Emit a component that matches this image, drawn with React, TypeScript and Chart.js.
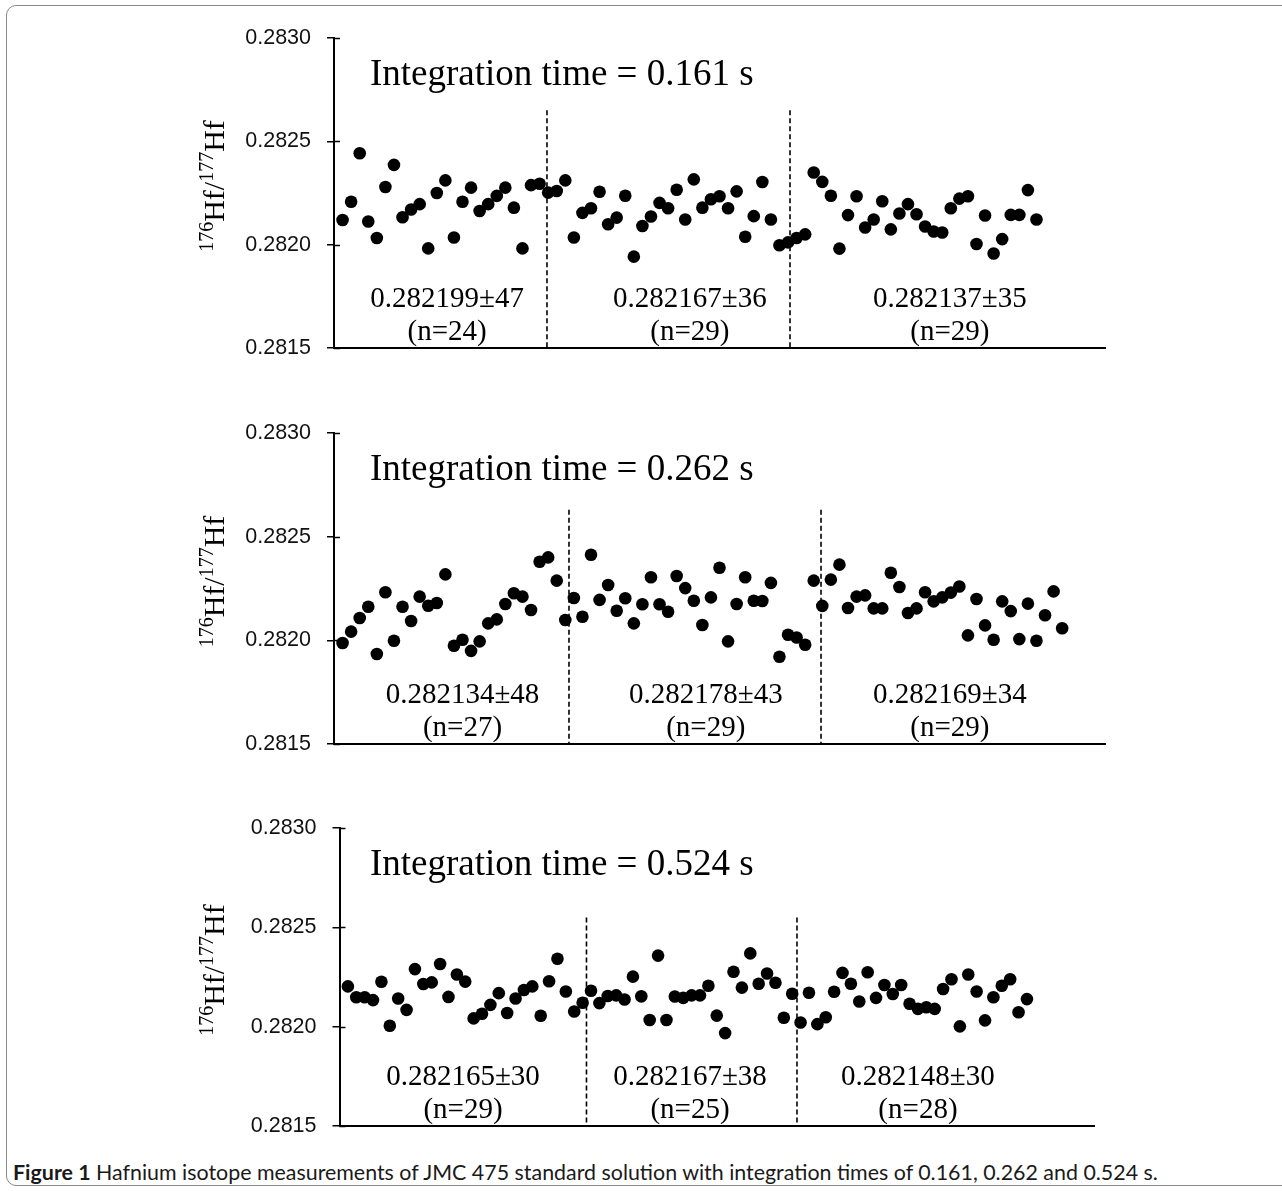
import React, { useEffect, useRef } from "react";
import { Chart, registerables } from "chart.js";

Chart.register(...registerables);

// ---- data ----
const yTicks = [0.2815, 0.282, 0.2825, 0.283];

const values161 = [
  0.282119, 0.282208, 0.282442, 0.282112, 0.282032, 0.282279, 0.282386, 0.282133, 0.28217, 0.282196,
  0.281982, 0.28225, 0.282311, 0.282035, 0.282208, 0.282276, 0.282163, 0.282196, 0.282236, 0.282276,
  0.282179, 0.281982, 0.282288, 0.282295, 0.282252, 0.28226, 0.282311, 0.282035, 0.282154, 0.282176,
  0.282256, 0.282099, 0.282131, 0.282237, 0.281942, 0.28209, 0.282136, 0.282202, 0.282176, 0.282266,
  0.282122, 0.282316, 0.282179, 0.28222, 0.282234, 0.282176, 0.282258, 0.282038, 0.282138, 0.282303,
  0.282122, 0.281997, 0.282011, 0.282032, 0.28205, 0.282349, 0.282304, 0.282237, 0.281981, 0.282143,
  0.282234, 0.282083, 0.282122, 0.28221, 0.282074, 0.282151, 0.282196, 0.282147, 0.282088, 0.282064,
  0.282059, 0.282176, 0.282223, 0.282234, 0.282003, 0.282141, 0.281957, 0.282027, 0.282144, 0.282144,
  0.282264, 0.282122,
];

const values262 = [
  0.281987, 0.282042, 0.282108, 0.282162, 0.281934, 0.282232, 0.281998, 0.282162, 0.282093, 0.282211,
  0.282167, 0.28218, 0.282318, 0.281974, 0.282003, 0.281949, 0.281995, 0.282082, 0.282101, 0.282175,
  0.282227, 0.282211, 0.282146, 0.282379, 0.2824, 0.282288, 0.282098, 0.282204, 0.282114, 0.282413,
  0.282195, 0.282267, 0.282143, 0.282203, 0.282082, 0.282174, 0.282304, 0.282174, 0.282138, 0.28231,
  0.282252, 0.282191, 0.282074, 0.282207, 0.28235, 0.281995, 0.282175, 0.282304, 0.282191, 0.28219,
  0.282277, 0.281921, 0.282027, 0.282014, 0.281979, 0.282288, 0.282166, 0.282293, 0.282365, 0.282156,
  0.282211, 0.282217, 0.282154, 0.282154, 0.282326, 0.282257, 0.282132, 0.282154, 0.282232, 0.282188,
  0.282207, 0.28223, 0.28226, 0.282024, 0.282199, 0.282072, 0.282003, 0.282188, 0.282141, 0.282006,
  0.282177, 0.281998, 0.282121, 0.282236, 0.282058,
];

const values524 = [
  0.282203, 0.282148, 0.282148, 0.282134, 0.282226, 0.282005, 0.282142, 0.282085, 0.28229, 0.282215,
  0.282223, 0.282316, 0.28215, 0.282263, 0.282227, 0.282042, 0.282065, 0.28211, 0.282169, 0.282069,
  0.282142, 0.282185, 0.282203, 0.282055, 0.282229, 0.282342, 0.282177, 0.282077, 0.282121, 0.282181,
  0.282119, 0.282155, 0.282158, 0.282137, 0.282252, 0.282153, 0.282034, 0.282358, 0.282034, 0.282152,
  0.282145, 0.282158, 0.282158, 0.282206, 0.282056, 0.281968, 0.282277, 0.282197, 0.282369, 0.282216,
  0.282268, 0.282221, 0.282045, 0.282166, 0.282021, 0.282171, 0.282013, 0.282048, 0.282176, 0.282271,
  0.282216, 0.282127, 0.282274, 0.282145, 0.28221, 0.282165, 0.28221, 0.282116, 0.28209, 0.282098,
  0.28209, 0.28219, 0.282239, 0.282002, 0.282263, 0.282177, 0.282032, 0.282148, 0.282206, 0.282239,
  0.282073, 0.282139,
];

const titles = ["Integration time = 0.161 s", "Integration time = 0.262 s", "Integration time = 0.524 s"];

const means161 = ["0.282199±47", "0.282167±36", "0.282137±35"];
const means262 = ["0.282134±48", "0.282178±43", "0.282169±34"];
const means524 = ["0.282165±30", "0.282167±38", "0.282148±30"];
const counts161 = ["(n=24)", "(n=29)", "(n=29)"];
const counts262 = ["(n=27)", "(n=29)", "(n=29)"];
const counts524 = ["(n=29)", "(n=25)", "(n=28)"];

// separators (x in run index) and their top value
const dividers161 = [24.86, 53.23];
const dividers262 = [27.43, 56.85];
const dividers524 = [29.46, 54.57];
const dividerTop161 = 0.28265;
const dividerTop262 = 0.28263;
const dividerTop524 = 0.28255;

// label centres (x in run index)
const labelX161 = [13.2, 41.55, 71.9];
const labelX262 = [15.0, 43.4, 71.9];
const labelX524 = [14.73, 41.81, 69.0];

const X_MIN = 0;
const X_MAX = 90;

const SERIF = '"Liberation Serif", "Times New Roman", serif';
const SANS = '"Liberation Sans", Arial, sans-serif';

const panels = [
  {
    values: values161, title: titles[0], means: means161, counts: counts161,
    dividers: dividers161, dividerTop: dividerTop161, labelX: labelX161,
    top: 0, height: 395, axisLeft: 334, axisRight: 1105, areaTop: 38, areaBottom: 348,
  },
  {
    values: values262, title: titles[1], means: means262, counts: counts262,
    dividers: dividers262, dividerTop: dividerTop262, labelX: labelX262,
    top: 395, height: 395, axisLeft: 334, axisRight: 1105, areaTop: 433, areaBottom: 744,
  },
  {
    values: values524, title: titles[2], means: means524, counts: counts524,
    dividers: dividers524, dividerTop: dividerTop524, labelX: labelX524,
    top: 790, height: 365, axisLeft: 339.5, axisRight: 1094, areaTop: 828, areaBottom: 1139,
  },
];

const overlayPlugin = {
  id: "overlay",
  afterDraw(chart: any, _args: any, opts: any) {
    const { ctx, chartArea } = chart;
    const x = chart.scales.x;
    const y = chart.scales.y;
    ctx.save();
    // inward tick marks
    ctx.strokeStyle = "#000";
    ctx.lineWidth = 1.5;
    for (const t of yTicks) {
      const py = Math.round(y.getPixelForValue(t)) + 0.5;
      ctx.beginPath();
      ctx.moveTo(chartArea.left, py);
      ctx.lineTo(chartArea.left + 6, py);
      ctx.stroke();
    }
    ctx.fillStyle = "#000";
    // panel title
    ctx.font = `37px ${SERIF}`;
    ctx.textAlign = "left";
    ctx.textBaseline = "alphabetic";
    ctx.fillText(opts.title, 370, chartArea.top + 47);
    // segment labels
    ctx.font = `29px ${SERIF}`;
    ctx.textAlign = "center";
    opts.labelX.forEach((lx: number, i: number) => {
      const px = x.getPixelForValue(lx);
      ctx.fillText(opts.means[i], px, chartArea.bottom - 41);
      ctx.fillText(opts.counts[i], px, chartArea.bottom - 8);
    });
    // y axis title with superscripts (rotated)
    const cy = (chartArea.top + chartArea.bottom) / 2 - 7;
    ctx.translate(224, cy);
    ctx.rotate(-Math.PI / 2);
    const parts = [
      { t: "176", sup: true },
      { t: "Hf/", sup: false },
      { t: "177", sup: true },
      { t: "Hf", sup: false },
    ];
    const supFont = `20px ${SERIF}`;
    const mainFont = `30px ${SERIF}`;
    let total = 0;
    for (const p of parts) {
      ctx.font = p.sup ? supFont : mainFont;
      total += ctx.measureText(p.t).width;
    }
    let cx = -total / 2;
    ctx.textAlign = "left";
    for (const p of parts) {
      ctx.font = p.sup ? supFont : mainFont;
      ctx.fillText(p.t, cx, p.sup ? -11 : 0);
      cx += ctx.measureText(p.t).width;
    }
    ctx.restore();
  },
};

function Panel({ cfg }: { cfg: any }) {
  const ref = useRef<HTMLCanvasElement | null>(null);
  useEffect(() => {
    if (!ref.current) return;
    const points = cfg.values.map((v: number, i: number) => ({ x: i + 1, y: v }));
    const dividerSets = cfg.dividers.map((dx: number) => ({
      type: "line",
      data: [
        { x: dx, y: cfg.dividerTop },
        { x: dx, y: 0.2815 },
      ],
      borderColor: "#000",
      borderWidth: 1.6,
      borderDash: [5, 3],
      pointRadius: 0,
      showLine: true,
      fill: false,
    }));
    const chart = new Chart(ref.current, {
      type: "scatter",
      data: {
        datasets: [
          {
            data: points,
            pointRadius: 6.3,
            pointHoverRadius: 6.3,
            backgroundColor: "#000",
            borderColor: "#000",
            borderWidth: 0,
          },
          ...dividerSets,
        ],
      },
      options: {
        animation: false,
        responsive: false,
        maintainAspectRatio: false,
        events: [],
        layout: {
          padding: {
            left: 0,
            right: 1282 - cfg.axisRight,
            top: cfg.areaTop - cfg.top,
            bottom: cfg.top + cfg.height - cfg.areaBottom,
          },
        },
        plugins: {
          legend: { display: false },
          tooltip: { enabled: false },
          overlay: {
            title: cfg.title,
            means: cfg.means,
            counts: cfg.counts,
            labelX: cfg.labelX,
          },
        } as any,
        scales: {
          x: {
            type: "linear",
            min: X_MIN,
            max: X_MAX,
            ticks: { display: false },
            grid: { display: false },
            border: { display: true, color: "#000", width: 2 },
            afterFit: (s: any) => {
              s.height = 0;
            },
          },
          y: {
            type: "linear",
            min: 0.2815,
            max: 0.283,
            afterBuildTicks: (s: any) => {
              s.ticks = yTicks.map((v) => ({ value: v }));
            },
            ticks: {
              callback: (v: any) => Number(v).toFixed(4),
              font: { family: SANS, size: 21.5 },
              color: "#111",
              padding: 16,
            },
            grid: {
              display: true,
              drawOnChartArea: false,
              drawTicks: true,
              tickLength: 7,
              color: "#000",
              lineWidth: 1.5,
            },
            border: { display: true, color: "#000", width: 2 },
            afterFit: (s: any) => {
              s.width = cfg.axisLeft;
            },
          },
        },
      } as any,
      plugins: [overlayPlugin],
    });
    return () => chart.destroy();
  }, [cfg]);
  return (
    <canvas
      ref={ref}
      width={1282}
      height={cfg.height}
      style={{ position: "absolute", left: 0, top: cfg.top, width: 1282, height: cfg.height }}
    />
  );
}

export default function App() {
  return (
    <div
      style={{
        position: "absolute",
        left: 0,
        top: 0,
        width: 1282,
        height: 1191,
        overflow: "hidden",
        background: "#fff",
      }}
    >
      <div
        style={{
          position: "absolute",
          left: 6,
          top: 5,
          width: 1300,
          height: 1181,
          border: "1.5px solid #8a8a8a",
          borderRadius: 10,
          boxSizing: "border-box",
        }}
      />
      {panels.map((p, i) => (
        <Panel key={i} cfg={p} />
      ))}
      <div
        style={{
          position: "absolute",
          left: 13,
          top: 1159,
          fontFamily: "Lato, 'Noto Sans', sans-serif",
          fontSize: 21.4,
          color: "#1a1a1a",
          whiteSpace: "nowrap",
          lineHeight: "26px",
        }}
      >
        <b>Figure 1</b> Hafnium isotope measurements of JMC 475 standard solution with integration times of 0.161,
        0.262 and 0.524 s.
      </div>
    </div>
  );
}
